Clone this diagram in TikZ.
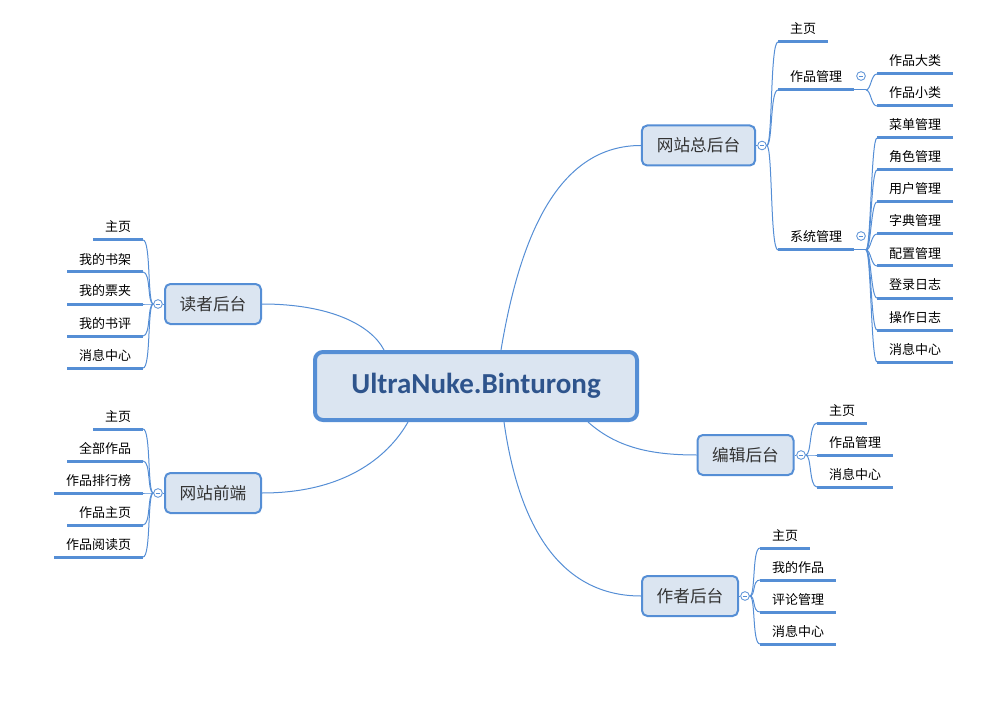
\documentclass[tikz,border=0pt]{standalone}
\usepackage{fontspec}
\setmainfont{Carlito}
\newfontfamily\cjk{Noto Sans CJK SC}
\definecolor{mapblue}{RGB}{85,142,213}
\definecolor{mapfill}{RGB}{219,229,241}
\definecolor{roottext}{RGB}{46,84,140}

\begin{document}
\begin{tikzpicture}[x=0.75pt,y=-0.75pt,
  root/.style={draw=mapblue,line width=3pt,fill=mapfill,rounded corners=6pt,minimum width=241.5pt,minimum height=51pt,font=\fontsize{21.75}{24}\selectfont\bfseries,text=roottext},
  topic/.style={draw=mapblue,line width=1.5pt,fill=mapfill,rounded corners=4pt,minimum height=30pt,font=\cjk\fontsize{12.5}{14}\selectfont,text=black!80},
  leaf/.style={inner xsep=9pt,inner ysep=6pt,text depth=0pt,outer sep=0pt,font=\cjk\fontsize{9.75}{11}\selectfont,append after command={(\tikzlastnode.south west) edge[uline] (\tikzlastnode.south east)}},
  uline/.style={draw=mapblue,line width=2.25pt},
  link/.style={draw=mapblue,line width=0.75pt},
  rlink/.style={link,to path={.. controls +(6,0) and +(-8,0) .. (\tikztotarget)}},
  llink/.style={link,to path={.. controls +(-6,0) and +(8,0) .. (\tikztotarget)}},
  sublink/.style={link,to path={.. controls +(5,0) and +(-6,0) .. (\tikztotarget)}},
  fold/.style={circle,draw=mapblue,fill=white,line width=0.6pt,minimum size=6.5pt,inner sep=0pt,path picture={\draw[mapblue,line width=0.6pt] ([xshift=-1.8pt]path picture bounding box.center) -- ([xshift=1.8pt]path picture bounding box.center);}}]
\useasboundingbox (0,0) rectangle (1006,702);

\node[root] (root) at (476,386) {UltraNuke.Binturong};

\node[topic,minimum width=85pt] (zht) at (698.5,145.5) {网站总后台};
\node[topic,minimum width=72pt] (dz) at (213,304) {读者后台};
\node[topic,minimum width=72pt] (qd) at (213,493) {网站前端};
\node[topic,minimum width=72pt] (bj) at (745.5,455) {编辑后台};
\node[topic,minimum width=72pt] (zz) at (690,596) {作者后台};

\draw[link] ([xshift=18.75pt]root.north) .. controls +(20,-120) and +(-80,0) .. (zht.west);
\draw[link] ([xshift=-69pt]root.north) .. controls +(-13,-25) and +(68,0) .. (dz.east);
\draw[link] ([xshift=-51pt]root.south) .. controls +(-17,30) and +(88,0) .. (qd.east);
\draw[link] ([xshift=84pt]root.south) .. controls +(28,25) and +(-47,0) .. (bj.west);
\draw[link] ([xshift=21pt]root.south) .. controls +(17,120) and +(-71,0) .. (zz.west);

\node[fold] (zhtf) at (762,145.5) {};
\node[fold] (dzf) at (158,304) {};
\node[fold] (qdf) at (158,493) {};
\node[fold] (bjf) at (801,455) {};
\node[fold] (zzf) at (745,596) {};
\node[fold] (zplf) at (861,76) {};
\node[fold] (xtf) at (861,236) {};
\draw[link] (zht) -- (zhtf);
\draw[link] (dz) -- (dzf);
\draw[link] (qd) -- (qdf);
\draw[link] (bj) -- (bjf);
\draw[link] (zz) -- (zzf);

\node[leaf,anchor=south west] (zht1) at (778,42) {主页};
\node[leaf,anchor=south west] (zht2) at (778,90) {作品管理};
\node[leaf,anchor=south west] (zht3) at (778,250) {系统管理};
\node[leaf,anchor=south west] (zpl1) at (877,74) {作品大类};
\node[leaf,anchor=south west] (zpl2) at (877,106) {作品小类};
\node[leaf,anchor=south west] (xt1) at (877,138) {菜单管理};
\node[leaf,anchor=south west] (xt2) at (877,170) {角色管理};
\node[leaf,anchor=south west] (xt3) at (877,202) {用户管理};
\node[leaf,anchor=south west] (xt4) at (877,234) {字典管理};
\node[leaf,anchor=south west] (xt5) at (877,266) {配置管理};
\node[leaf,anchor=south west] (xt6) at (877,298) {登录日志};
\node[leaf,anchor=south west] (xt7) at (877,330) {操作日志};
\node[leaf,anchor=south west] (xt8) at (877,362) {消息中心};
\coordinate (zplj) at (866,90);
\coordinate (xtj) at (866,250);

\node[leaf,anchor=south east] (dz1) at (143,240) {主页};
\node[leaf,anchor=south east] (dz2) at (143,272) {我的书架};
\node[leaf,anchor=south east] (dz3) at (143,304) {我的票夹};
\node[leaf,anchor=south east] (dz4) at (143,336) {我的书评};
\node[leaf,anchor=south east] (dz5) at (143,368) {消息中心};

\node[leaf,anchor=south east] (qd1) at (143,429) {主页};
\node[leaf,anchor=south east] (qd2) at (143,461) {全部作品};
\node[leaf,anchor=south east] (qd3) at (143,493) {作品排行榜};
\node[leaf,anchor=south east] (qd4) at (143,525) {作品主页};
\node[leaf,anchor=south east] (qd5) at (143,557) {作品阅读页};

\node[leaf,anchor=south west] (bj1) at (817,423) {主页};
\node[leaf,anchor=south west] (bj2) at (817,455) {作品管理};
\node[leaf,anchor=south west] (bj3) at (817,487) {消息中心};

\node[leaf,anchor=south west] (zz1) at (760,548) {主页};
\node[leaf,anchor=south west] (zz2) at (760,580) {我的作品};
\node[leaf,anchor=south west] (zz3) at (760,612) {评论管理};
\node[leaf,anchor=south west] (zz4) at (760,644) {消息中心};

\path (zhtf.east) edge[rlink] (zht1.south west) edge[rlink] (zht2.south west) edge[rlink] (zht3.south west);
\draw[link] (zht2.south east) -- (zplj);
\draw[link] (zht3.south east) -- (xtj);
\path (zplj) edge[sublink] (zpl1.south west) edge[sublink] (zpl2.south west);
\path (xtj) edge[sublink] (xt1.south west) edge[sublink] (xt2.south west) edge[sublink] (xt3.south west) edge[sublink] (xt4.south west)
  edge[sublink] (xt5.south west) edge[sublink] (xt6.south west) edge[sublink] (xt7.south west) edge[sublink] (xt8.south west);
\path (dzf.west) edge[llink] (dz1.south east) edge[llink] (dz2.south east) edge[llink] (dz3.south east) edge[llink] (dz4.south east) edge[llink] (dz5.south east);
\path (qdf.west) edge[llink] (qd1.south east) edge[llink] (qd2.south east) edge[llink] (qd3.south east) edge[llink] (qd4.south east) edge[llink] (qd5.south east);
\path (bjf.east) edge[rlink] (bj1.south west) edge[rlink] (bj2.south west) edge[rlink] (bj3.south west);
\path (zzf.east) edge[rlink] (zz1.south west) edge[rlink] (zz2.south west) edge[rlink] (zz3.south west) edge[rlink] (zz4.south west);
\end{tikzpicture}
\end{document}
